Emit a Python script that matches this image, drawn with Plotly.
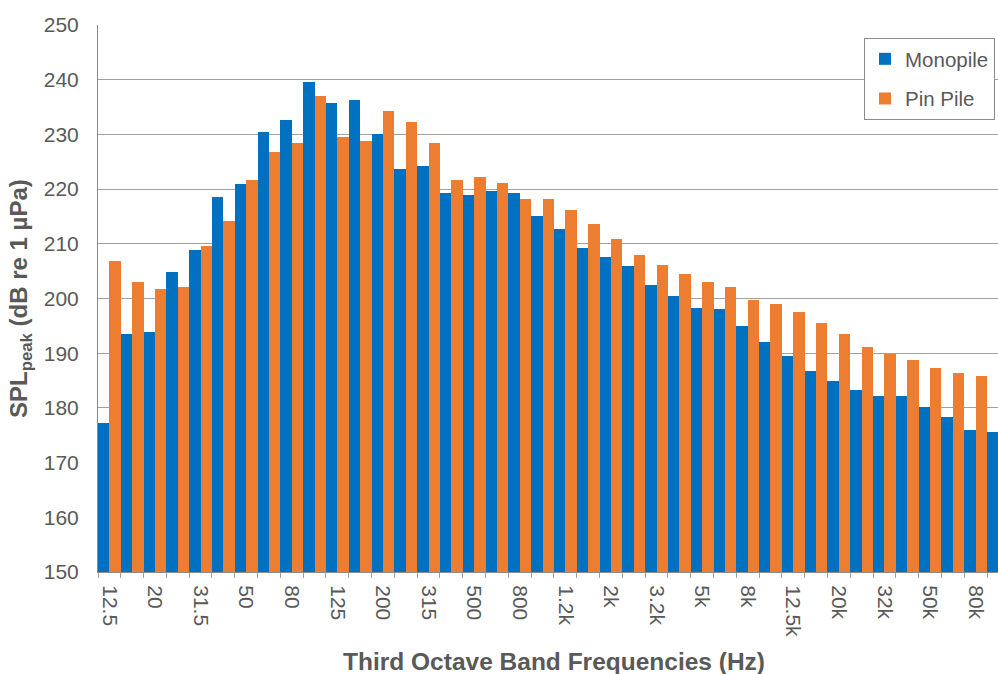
import plotly.graph_objects as go

# Third octave band centre frequencies (Hz)
bands = ["12.5", "16", "20", "25", "31.5", "40", "50", "63", "80", "100",
         "125", "160", "200", "250", "315", "400", "500", "630", "800", "1k",
         "1.2k", "1.6k", "2k", "2.5k", "3.2k", "4k", "5k", "6.3k", "8k", "10k",
         "12.5k", "16k", "20k", "25k", "32k", "40k", "50k", "63k", "80k", "100k"]

monopile = [177.3, 193.6, 193.9, 204.9, 208.9, 218.6, 220.9, 230.5, 232.6, 239.5,
            235.7, 236.3, 230.0, 223.7, 224.3, 219.2, 218.9, 219.6, 219.2, 215.1,
            212.7, 209.3, 207.6, 205.9, 202.4, 200.4, 198.3, 198.0, 194.9, 192.1,
            189.4, 186.7, 185.0, 183.3, 182.2, 182.2, 180.1, 178.4, 176.0, 175.6]

pin_pile = [206.9, 203.1, 201.7, 202.1, 209.6, 214.1, 221.6, 226.8, 228.5, 237.1,
            229.5, 228.8, 234.3, 232.3, 228.5, 221.6, 222.3, 221.2, 218.2, 218.2,
            216.1, 213.7, 210.9, 207.9, 206.2, 204.4, 203.1, 202.1, 199.8, 199.0,
            197.6, 195.6, 193.5, 191.1, 189.8, 188.7, 187.3, 186.3, 185.9, None]

# every other band is labelled
tick_text = [b if i % 2 == 0 else "" for i, b in enumerate(bands)]

FONT = "Liberation Sans, Arial, sans-serif"
GREY_TXT = "#595959"

fig = go.Figure()
fig.add_trace(go.Bar(x=bands, y=monopile, name="Monopile",
                     marker=dict(color="#0070C0", line=dict(width=0)),
                     legendgroup="a"))
fig.add_trace(go.Bar(x=bands, y=pin_pile, name="Pin Pile",
                     marker=dict(color="#ED7D31", line=dict(width=0)),
                     legendgroup="b"))

W, H = 998, 674
ml, mr, mt, mb = 97.5, 0, 25, 102.4
pw = W - ml - mr
ph = H - mt - mb

fig.update_layout(
    width=W, height=H,
    margin=dict(l=ml, r=mr, t=mt, b=mb, pad=0),
    paper_bgcolor="white", plot_bgcolor="white",
    barmode="group", bargap=0, bargroupgap=0,
    font=dict(family=FONT, size=21, color=GREY_TXT),
    showlegend=True,
    legend=dict(
        x=(995 - ml) / pw, y=(571.6 - 38) / ph,
        xanchor="right", yanchor="top",
        bgcolor="white", bordercolor="#8c8c8c", borderwidth=1,
        font=dict(family=FONT, size=20.5, color=GREY_TXT),
        tracegroupgap=10, traceorder="grouped",
        itemwidth=30,
    ),
    xaxis=dict(
        type="category",
        categoryorder="array", categoryarray=bands,
        range=[-0.5, 38.98],
        tickmode="array", tickvals=bands, ticktext=tick_text,
        tickson="boundaries",
        ticks="outside", ticklen=5, tickcolor="#a0a0a0", tickwidth=1,
        tickangle=90, ticklabelstandoff=8,
        tickfont=dict(family=FONT, size=21, color=GREY_TXT),
        showline=True, linecolor="#8c8c8c", linewidth=1,
        showgrid=False, zeroline=False,
    ),
    yaxis=dict(
        range=[150, 250], dtick=10, tick0=150,
        ticks="", ticklabelstandoff=14,
        tickfont=dict(family=FONT, size=21, color=GREY_TXT),
        showline=True, linecolor="#8c8c8c", linewidth=1,
        showgrid=True, gridcolor="#a0a0a0", gridwidth=1,
        zeroline=False,
    ),
    annotations=[
        dict(text="<b>Third Octave Band Frequencies (Hz)</b>",
             xref="paper", yref="paper",
             x=(554 - ml) / pw, y=(571.6 - 661) / ph,
             xanchor="center", yanchor="middle", showarrow=False,
             font=dict(family=FONT, size=24.5, color=GREY_TXT)),
        dict(text="<b>SPL<sub>peak</sub> (dB re 1 µPa)</b>",
             xref="paper", yref="paper",
             x=(20 - ml) / pw, y=0.5, textangle=-90,
             xanchor="center", yanchor="middle", showarrow=False,
             font=dict(family=FONT, size=24, color=GREY_TXT)),
    ],
)

fig.write_html(
    "out.html",
    config={"displayModeBar": False},
    post_script="document.body.style.margin='0';document.body.style.overflow='hidden';",
)
